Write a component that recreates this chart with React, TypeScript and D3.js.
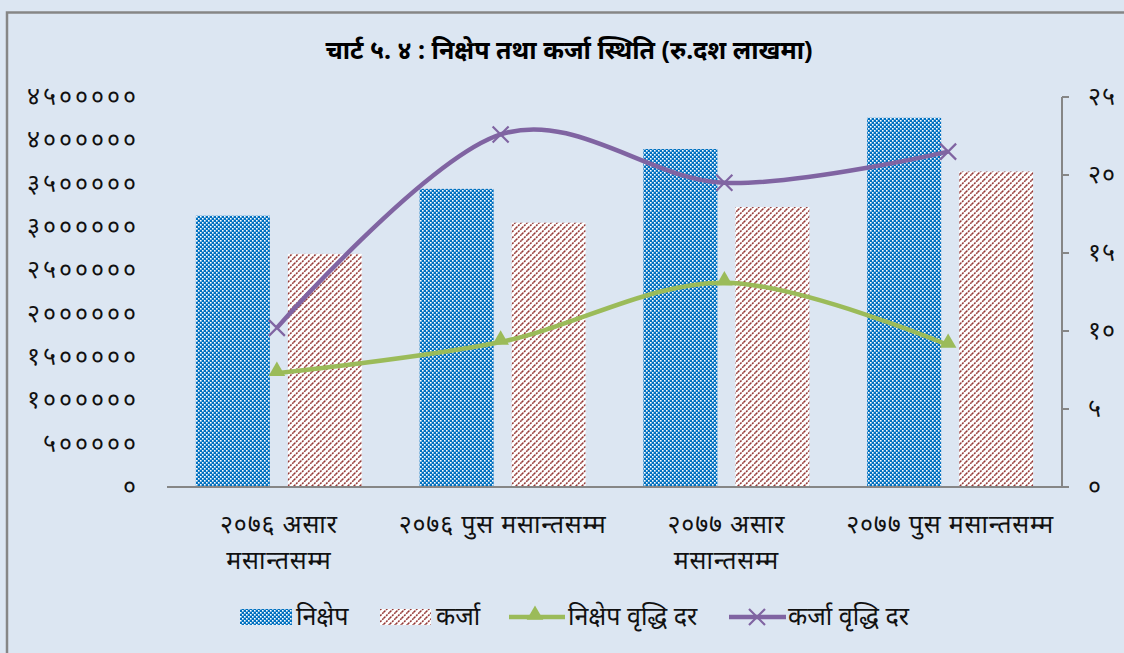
import React, { useEffect, useRef } from "react";
import * as d3 from "d3";

// categories (each label split in lines as in the source)
const categories = [
	["२०७६ असार", "मसान्तसम्म"],
	["२०७६ पुस मसान्तसम्म"],
	["२०७७ असार", "मसान्तसम्म"],
	["२०७७ पुस मसान्तसम्म"],
];
const deposits = [3130000, 3440000, 3900000, 4260000];
const loans = [2690000, 3050000, 3230000, 3640000];
const depositGrowth = [7.3, 9.3, 13.1, 9.1];
const loanGrowth = [10.2, 22.6, 19.5, 21.5];
const leftTicks = [0, 500000, 1000000, 1500000, 2000000, 2500000, 3000000, 3500000, 4000000, 4500000];
const rightTicks = [0, 5, 10, 15, 20, 25];
const seriesNames = ["निक्षेप", "कर्जा", "निक्षेप वृद्धि दर", "कर्जा वृद्धि दर"];

const devDigits = "०१२३४५६७८९";
const toDev = (n: number) => String(n).replace(/[0-9]/g, (c) => devDigits[+c]);

const FONT = "'Noto Sans', sans-serif";
const BLUE = "#0070C0";
const RED = "#953735";
const GREEN = "#9BBB59";
const PURPLE = "#8064A2";
const GRID = "#868686";
const FS = 25;

export default function App() {
	const ref = useRef<SVGSVGElement>(null);

	useEffect(() => {
		const svg = d3.select(ref.current);
		svg.selectAll("*").remove();

		const W = 1124, H = 653;
		const margin = { left: 167, right: 1062, top: 97, bottom: 487 };

		const defs = svg.append("defs");
		// blue lattice pattern
		const pb = defs.append("pattern").attr("id", "pBlue").attr("patternUnits", "userSpaceOnUse")
			.attr("width", 8).attr("height", 8);
		pb.append("rect").attr("width", 8).attr("height", 8).attr("fill", BLUE);
		[[0, 0], [4, 0], [2, 2], [6, 2], [0, 4], [4, 4], [2, 6], [6, 6]].forEach(([x, y]) =>
			pb.append("rect").attr("x", x).attr("y", y).attr("width", 1.6).attr("height", 1.6).attr("fill", "#fff"));
		// red diagonal pattern
		const pr = defs.append("pattern").attr("id", "pRed").attr("patternUnits", "userSpaceOnUse")
			.attr("width", 6).attr("height", 6);
		pr.append("rect").attr("width", 6).attr("height", 6).attr("fill", "#fff");
		pr.append("path").attr("d", "M0,6 L6,0 M-1,1 L1,-1 M5,7 L7,5")
			.attr("stroke", RED).attr("stroke-width", 1.5).attr("stroke-dasharray", "2,1");

		svg.append("rect").attr("width", W).attr("height", H).attr("fill", "#DCE6F2");
		svg.append("path").attr("d", `M7,${H + 5} L7,12.5 L${W + 5},12.5`)
			.attr("fill", "none").attr("stroke", GRID).attr("stroke-width", 2.5);

		svg.append("text").attr("x", 569).attr("y", 59).attr("text-anchor", "middle")
			.attr("font-family", FONT).attr("font-weight", "bold").attr("font-size", 25)
			.text("चार्ट ५. ४ : निक्षेप तथा कर्जा स्थिति (रु.दश लाखमा)");

		const x0 = d3.scaleBand<number>().domain(d3.range(categories.length))
			.range([margin.left, margin.right]).paddingInner(0).paddingOuter(0);
		const y = d3.scaleLinear().domain([0, 4500000]).range([margin.bottom, margin.top]);
		const y2 = d3.scaleLinear().domain([0, 25]).range([margin.bottom, margin.top]);

		const barW = 74, gap = 18;
		const g = svg.append("g");
		deposits.forEach((v, i) => {
			const cx = x0(i)! + x0.bandwidth() / 2;
			g.append("rect").attr("x", cx - gap / 2 - barW).attr("y", y(v)).attr("width", barW)
				.attr("height", y(0) - y(v)).attr("fill", "url(#pBlue)");
			g.append("rect").attr("x", cx + gap / 2).attr("y", y(loans[i])).attr("width", barW)
				.attr("height", y(0) - y(loans[i])).attr("fill", "url(#pRed)");
		});

		// axes
		svg.append("line").attr("x1", margin.left).attr("x2", margin.right)
			.attr("y1", margin.bottom).attr("y2", margin.bottom).attr("stroke", GRID).attr("stroke-width", 2);
		svg.append("line").attr("x1", margin.right).attr("x2", margin.right)
			.attr("y1", margin.top).attr("y2", margin.bottom).attr("stroke", GRID).attr("stroke-width", 2);
		rightTicks.forEach((t) => {
			svg.append("line").attr("x1", margin.right).attr("x2", margin.right + 7)
				.attr("y1", y2(t)).attr("y2", y2(t)).attr("stroke", GRID).attr("stroke-width", 2);
			svg.append("text").attr("x", 1088).attr("y", y2(t) + 8).attr("font-family", FONT)
				.attr("font-size", FS).attr("letter-spacing", 1).attr("fill", "#111").text(toDev(t));
		});
		leftTicks.forEach((t) => {
			svg.append("text").attr("x", 139).attr("y", y(t) + 8).attr("text-anchor", "end")
				.attr("font-family", FONT).attr("font-size", FS).attr("letter-spacing", 3)
				.attr("fill", "#111").text(toDev(t));
		});
		categories.forEach((lines, i) => {
			const cx = x0(i)! + x0.bandwidth() / 2;
			lines.forEach((l, j) => {
				svg.append("text").attr("x", cx).attr("y", 533 + j * 36).attr("text-anchor", "middle")
					.attr("font-family", FONT).attr("font-size", FS).attr("letter-spacing", 0.8)
					.attr("fill", "#111").text(l);
			});
		});

		// lines
		const cxOf = (i: number) => x0(i)! + x0.bandwidth() / 2 - 2;
		const line = d3.line<number>().x((d, i) => cxOf(i)).y((d) => y2(d)).curve(d3.curveCardinal.tension(0));
		svg.append("path").attr("d", line(depositGrowth)).attr("fill", "none")
			.attr("stroke", GREEN).attr("stroke-width", 4.5);
		svg.append("path").attr("d", line(loanGrowth)).attr("fill", "none")
			.attr("stroke", PURPLE).attr("stroke-width", 4.5);

		const tri = d3.symbol().type(d3.symbolTriangle).size(120);
		depositGrowth.forEach((v, i) => {
			svg.append("path").attr("d", tri()).attr("transform", `translate(${cxOf(i)},${y2(v) - 2})`)
				.attr("fill", GREEN);
		});
		const cross = (cx: number, cy: number, s: number) =>
			`M${cx - s},${cy - s} L${cx + s},${cy + s} M${cx - s},${cy + s} L${cx + s},${cy - s}`;
		loanGrowth.forEach((v, i) => {
			svg.append("path").attr("d", cross(cxOf(i), y2(v), 8)).attr("stroke", PURPLE)
				.attr("stroke-width", 2.2).attr("fill", "none");
		});

		// legend
		const ly = 617;
		const lg = svg.append("g").attr("font-family", FONT).attr("font-size", FS).attr("fill", "#111");
		lg.append("rect").attr("x", 240).attr("y", ly - 8).attr("width", 52).attr("height", 16).attr("fill", "url(#pBlue)");
		lg.append("text").attr("x", 296).attr("y", ly + 8).text(seriesNames[0]);
		lg.append("rect").attr("x", 380).attr("y", ly - 8).attr("width", 51).attr("height", 16).attr("fill", "url(#pRed)");
		lg.append("text").attr("x", 436).attr("y", ly + 8).text(seriesNames[1]);
		lg.append("line").attr("x1", 509).attr("x2", 565).attr("y1", ly).attr("y2", ly)
			.attr("stroke", GREEN).attr("stroke-width", 4.5);
		lg.append("path").attr("d", tri()).attr("transform", `translate(535,${ly - 2})`).attr("fill", GREEN);
		lg.append("text").attr("x", 568).attr("y", ly + 8).text(seriesNames[2]);
		lg.append("line").attr("x1", 729).attr("x2", 786).attr("y1", ly).attr("y2", ly)
			.attr("stroke", PURPLE).attr("stroke-width", 4.5);
		lg.append("path").attr("d", cross(757, ly, 8)).attr("stroke", PURPLE).attr("stroke-width", 2.2);
		lg.append("text").attr("x", 788).attr("y", ly + 8).text(seriesNames[3]);
	}, []);

	return (
		<svg ref={ref} width={1124} height={653} style={{ position: "absolute", left: 0, top: 0 }} />
	);
}
